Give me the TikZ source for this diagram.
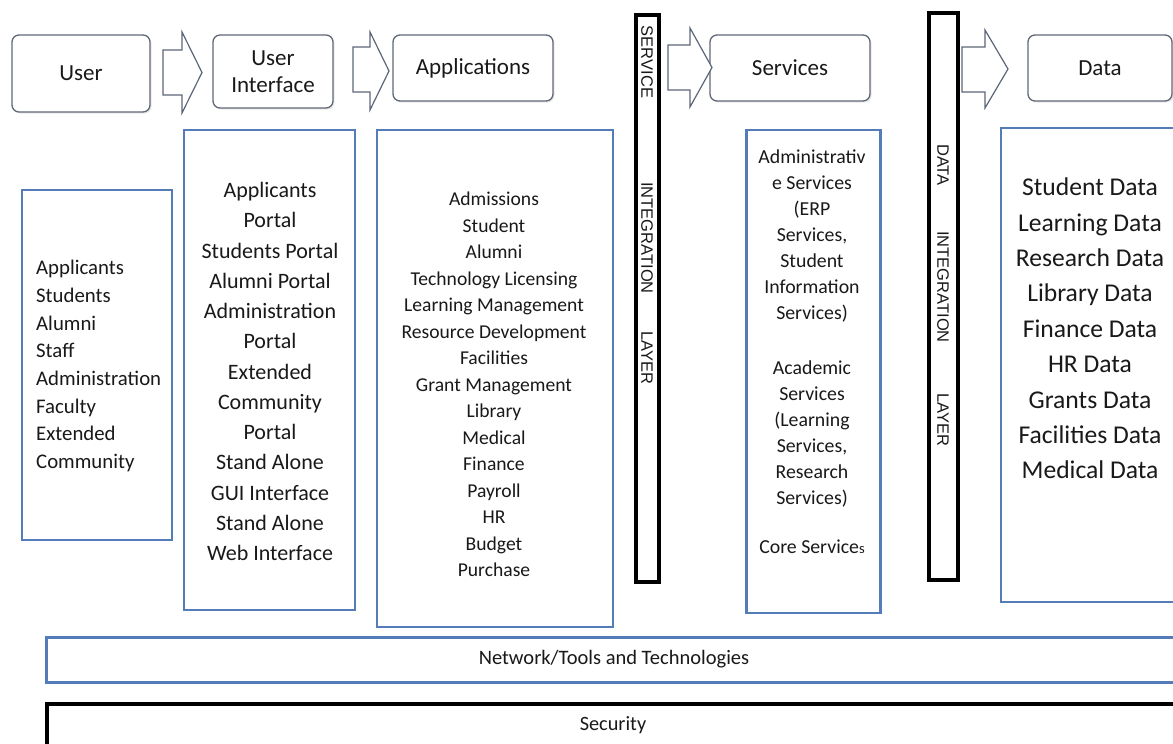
\documentclass[tikz,border=0pt]{standalone}
\usepackage{fontspec}
\setmainfont{Carlito}
\newfontfamily\barfont{Liberation Sans}
\usetikzlibrary{shadows}
\definecolor{boxblue}{RGB}{84,124,184}
\definecolor{headline}{RGB}{96,104,118}
\definecolor{arrowline}{RGB}{92,102,120}
\definecolor{ink}{RGB}{25,25,25}
\begin{document}
\begin{tikzpicture}[x=1pt,y=-1pt,
  header/.style={draw=headline, line width=1.3pt, rounded corners=7pt, fill=white,
    drop shadow={opacity=0.18, shadow xshift=1.5pt, shadow yshift=-1.5pt},
    font=\fontsize{23}{27}\selectfont, text=ink, align=center, inner sep=0pt},
  blockarrow/.style={draw=arrowline, line width=1.2pt, fill=white, line join=miter},
  listbox/.style={draw=boxblue, line width=2.6pt, inner sep=0pt, fill=white},
  barbox/.style={draw=black, line width=3.6pt, inner sep=0pt, fill=white},
  bartext/.style={font=\barfont\fontsize{16.5}{18}\selectfont, text=ink, rotate=-90, inner sep=0pt},
  listtext/.style={text=ink, inner sep=0pt}
]
\useasboundingbox (0,0) rectangle (1173,744);
\clip (0,0) rectangle (1173,744);

% top row of stage headers
\node[header, minimum width=138, minimum height=77] (user) at (81,73.5) {User};
\node[header, minimum width=120, minimum height=73] (ui) at (273,71.5) {User\\Interface};
\node[header, minimum width=160, minimum height=66] (apps) at (473,68) {Applications};
\node[header, minimum width=160, minimum height=66] (serv) at (790,68) {Services};
\node[header, minimum width=144, minimum height=66] (data) at (1100,68) {Data};

% block arrows between the stages: start, head start, tip, shaft top/bottom, head top/bottom
\newcommand\blockarrow[7]{%
  \draw[blockarrow] (#1,#4) -- (#2,#4) -- (#2,#6) -- (#3,{(#6+#7)/2}) -- (#2,#7)
    -- (#2,#5) -- (#1,#5) -- cycle;}
\blockarrow{163}{182}{202}{50}{95}{32}{113}
\blockarrow{353}{370}{389}{47}{92}{32}{110}
\blockarrow{668}{690}{712}{45}{90}{28}{107}
\blockarrow{962}{985}{1008}{47}{92}{30}{108}

% integration layers
\node[barbox, minimum width=23, minimum height=567] (sbar) at (647.5,298.5) {};
\node[bartext] (stxt1) at (647,62) {SERVICE};
\node[bartext] (stxt2) at (647,238) {INTEGRATION};
\node[bartext] (stxt3) at (647,358) {LAYER};

\node[barbox, minimum width=29, minimum height=567] (dbar) at (943.5,296.5) {};
\node[bartext] (dtxt1) at (943,165) {DATA};
\node[bartext] (dtxt2) at (943,287) {INTEGRATION};
\node[bartext] (dtxt3) at (943,420) {LAYER};

% user groups
\node[listbox, minimum width=150, minimum height=350] (userbox) at (97,365) {};
\node[listtext, anchor=west, align=left, font=\fontsize{20.8}{27.7}\selectfont] (userlist) at (36,366)
  {Applicants\\Students\\Alumni\\Staff\\Administration\\Faculty\\Extended\\Community};

% interfaces
\node[listbox, minimum width=171, minimum height=480] (uibox) at (269.5,370) {};
\node[listtext, align=center, font=\fontsize{22}{30.25}\selectfont] (uilist) at (270,371.5)
  {Applicants\\Portal\\Students Portal\\Alumni Portal\\Administration\\Portal\\Extended\\Community\\Portal\\Stand Alone\\GUI Interface\\Stand Alone\\Web Interface};

% applications
\node[listbox, minimum width=236, minimum height=497] (appbox) at (495,378.5) {};
\node[listtext, align=center, font=\fontsize{19.6}{26.5}\selectfont] (applist) at (494,384.5)
  {Admissions\\Student\\Alumni\\Technology Licensing\\Learning Management\\Resource Development\\Facilities\\Grant Management\\Library\\Medical\\Finance\\Payroll\\HR\\Budget\\Purchase};

% services
\node[listbox, minimum width=134, minimum height=483] (servbox) at (813.5,371.5) {};
\node[listtext, align=center, font=\fontsize{19.8}{26}\selectfont] (servlist) at (812,351.5)
  {Administrativ\\e Services\\(ERP\\Services,\\Student\\Information\\Services)\\[29pt]
   Academic\\Services\\(Learning\\Services,\\Research\\Services)\\[23pt]Core Service{\fontsize{14.5}{16}\selectfont s}};

% data stores
\node[listbox, minimum width=190, minimum height=474] (databox) at (1096,365) {};
\node[listtext, align=center, font=\fontsize{25.6}{35.4}\selectfont] (datalist) at (1090,328.5)
  {Student Data\\Learning Data\\Research Data\\Library Data\\Finance Data\\HR Data\\Grants Data\\Facilities Data\\Medical Data};

% cross-cutting layers
\node[listbox, minimum width=1160, minimum height=45, anchor=north west] (net) at (45,636) {};
\node[listtext, font=\fontsize{20.5}{22}\selectfont] (nettxt) at (614,659) {Network/Tools and Technologies};
\node[barbox, minimum width=1160, minimum height=80, anchor=north west] (sec) at (45,702) {};
\node[listtext, font=\fontsize{20.3}{22}\selectfont] (sectxt) at (613,725) {Security};
\end{tikzpicture}
\end{document}
